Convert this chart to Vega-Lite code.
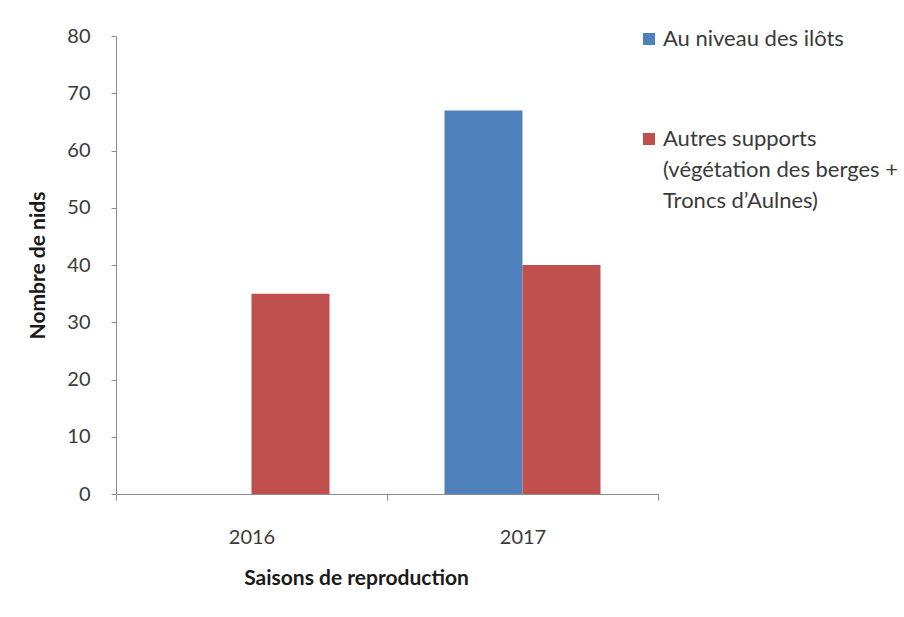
{
  "$schema": "https://vega.github.io/schema/vega-lite/v6.json",
  "autosize": {"type": "none"},
  "padding": {"left": 116, "top": 36, "right": 246, "bottom": 123},
  "width": 542,
  "height": 458,
  "background": "white",
  "config": {
    "font": "Lato",
    "view": {"stroke": null},
    "axis": {"labelFont": "Lato", "titleFont": "Lato", "labelColor": "#3a3a3a", "titleColor": "#1a1a1a", "domainColor": "#8c8c8c", "tickColor": "#8c8c8c", "grid": false}
  },
  "data": {
    "values": [
      {"saison": "2016", "support": "Au niveau des ilôts", "nids": 0},
      {"saison": "2016", "support": "Autres supports (végétation des berges + Troncs d'Aulnes)", "nids": 35},
      {"saison": "2017", "support": "Au niveau des ilôts", "nids": 67},
      {"saison": "2017", "support": "Autres supports (végétation des berges + Troncs d'Aulnes)", "nids": 40}
    ]
  },
  "mark": {"type": "bar"},
  "encoding": {
    "x": {
      "field": "saison", "type": "nominal",
      "scale": {"paddingInner": 0, "paddingOuter": 0},
      "axis": {"title": "Saisons de reproduction", "labelAngle": 0, "labelFontSize": 20, "labelPadding": 27, "tickBand": "extent", "tickSize": 6, "titleFontSize": 21, "titleFontWeight": "bold", "titlePadding": 20, "titleX": 240}
    },
    "xOffset": {"field": "support", "type": "nominal", "sort": ["Au niveau des ilôts", "Autres supports (végétation des berges + Troncs d'Aulnes)"], "scale": {"paddingInner": 0, "paddingOuter": 0.737}},
    "y": {
      "field": "nids", "type": "quantitative",
      "scale": {"domain": [0, 80], "nice": false},
      "axis": {"title": "Nombre de nids", "values": [0, 10, 20, 30, 40, 50, 60, 70, 80], "labelFontSize": 20, "labelPadding": 21, "tickSize": 5, "titleFontSize": 21, "titleFontWeight": "bold", "titlePadding": 18}
    },
    "color": {
      "field": "support", "type": "nominal",
      "sort": ["Au niveau des ilôts", "Autres supports (végétation des berges + Troncs d'Aulnes)"],
      "scale": {"range": ["#4F81BD", "#C0504D"]},
      "legend": {
        "title": null, "orient": "none", "legendX": 522, "legendY": -8,
        "symbolType": "square", "symbolSize": 144, "symbolOpacity": 1, "symbolStrokeWidth": 0,
        "labelFontSize": 22, "labelColor": "#3a3a3a", "labelLimit": 400, "labelBaseline": "middle",
        "rowPadding": 78, "labelOffset": 3,
        "labelExpr": "datum.value == 'Au niveau des ilôts' ? datum.label : ['Autres supports', '(végétation des berges +', 'Troncs d\u2019Aulnes)']",
        "encode": {"labels": {"update": {"lineHeight": {"value": 31}}}}
      }
    }
  }
}
